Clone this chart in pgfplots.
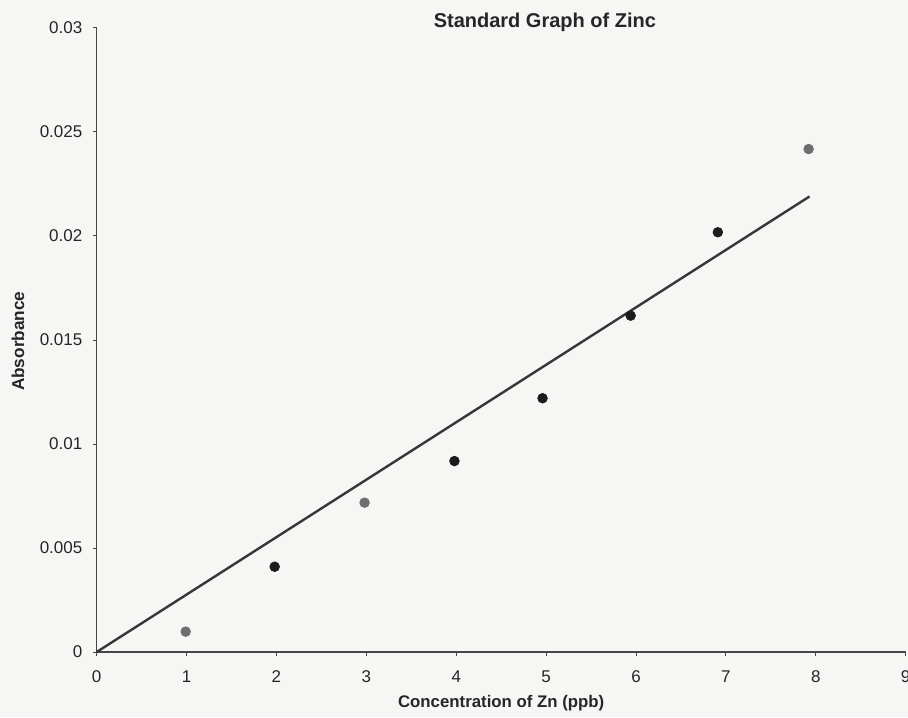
\documentclass[border=0pt]{standalone}
\usepackage{fontspec}
\setmainfont{Liberation Sans}
\usepackage{pgfplots}
\pgfplotsset{compat=1.18}
\definecolor{bg}{RGB}{246,246,244}
\definecolor{ptblack}{RGB}{28,28,28}
\definecolor{ptgray}{RGB}{110,110,110}
\definecolor{lincol}{RGB}{55,55,55}
\definecolor{axcol}{RGB}{70,70,70}
\begin{document}
\begin{tikzpicture}
\fill[bg] (-48.35pt,-32.5pt) rectangle (405.65pt,326pt);
\begin{axis}[
  scale only axis,
  width=404.5pt, height=312pt,
  xmin=0, xmax=9, ymin=0, ymax=0.03,
  axis x line=bottom, axis y line=left,
  axis line style={-, axcol, line width=0.6pt},
  tick align=outside,
  major tick length=2pt,
  tick style={axcol, line width=0.5pt},
  xtick={0,1,2,3,4,5,6,7,8,9},
  xticklabels={0,1,2,3,4,5,6,7,8,9},
  ytick={0,0.005,0.01,0.015,0.02,0.025,0.03},
  yticklabels={0,0.005,0.01,0.015,0.02,0.025,0.03},
  scaled y ticks=false,
  tick label style={font=\fontsize{8.5}{10}\selectfont, text=black!85},
  yticklabel style={anchor=east, inner sep=0pt, xshift=-5pt},
  xticklabel style={anchor=center, inner sep=0pt, yshift=-10.5pt},
  clip=false,
  xlabel={\bfseries Concentration of Zn (ppb)},
  xlabel style={font=\fontsize{8.4}{10}\selectfont, at={(rel axis cs:0.5,-0.0817)}, anchor=center, text=black!85},
  ylabel={\bfseries Absorbance},
  ylabel style={font=\fontsize{8.6}{10}\selectfont, at={(rel axis cs:-0.0973,0.498)}, anchor=center, rotate=0, text=black!85},
]
\addplot[lincol, line width=1.2pt, no marks] coordinates {(0,0) (7.93,0.0219)};
\addplot[only marks, mark=*, mark size=2.4pt, mark options={fill=ptblack, draw=ptblack}] coordinates {
  (1.98,0.0041) (3.98,0.00918) (4.96,0.0122) (5.94,0.01617) (6.91,0.02018)
};
\addplot[only marks, mark=*, mark size=2.4pt, mark options={fill=ptgray, draw=ptgray}] coordinates {
  (0.99,0.00098) (2.98,0.00718) (7.92,0.02418)
};
\node[font=\fontsize{10}{12}\selectfont\bfseries, text=black!85, anchor=center, inner sep=0pt] at (rel axis cs:0.554,1.0096) {Standard Graph of Zinc};
\end{axis}
\pgfresetboundingbox
\path (-48.35pt,-32.5pt) rectangle (405.65pt,326pt);
\end{tikzpicture}
\end{document}
